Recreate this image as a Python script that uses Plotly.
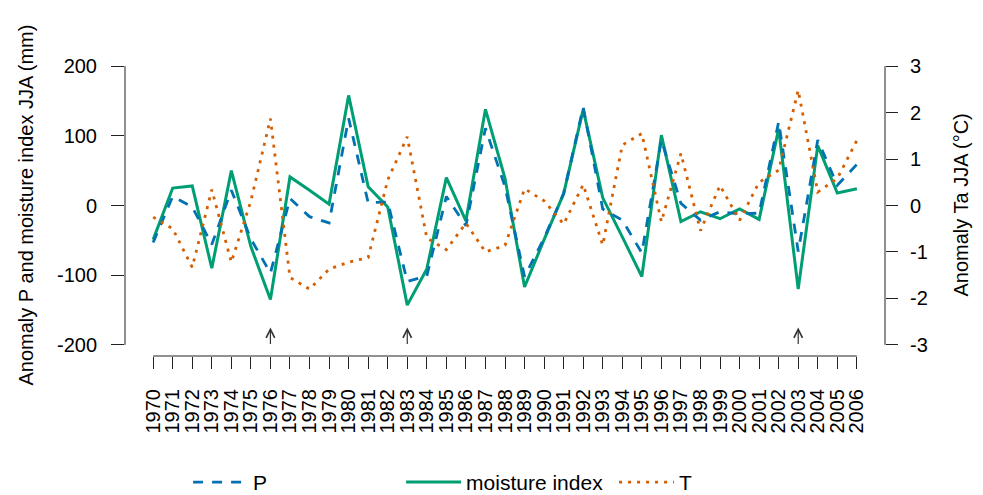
import plotly.graph_objects as go

years = list(range(1970, 2007))

P = [-53, 13, -2, -56, 22, -48, -97, 10, -16, -25,
     125, 4, 5, -109, -101, 13, -29, 111, 27, -102,
     -47, 17, 141, -5, -21, -68, 94, 3, -21, -9,
     -12, -11, 120, -66, 94, 29, 59]

moisture = [-49, 25, 28, -90, 50, -59, -135, 41, 22, 2,
            158, 27, -2, -143, -91, 40, -22, 138, 39, -117,
            -49, 17, 138, 11, -45, -102, 101, -23, -9, -19,
            -5, -20, 110, -120, 86, 18, 24]

T = [-0.25, -0.5, -1.33, 0.34, -1.22, 0.1, 1.87, -1.55, -1.8, -1.37,
     -1.22, -1.12, 0.55, 1.48, -0.7, -0.95, -0.38, -1.0, -0.86, 0.36,
     0.1, -0.4, 0.45, -0.85, 1.3, 1.55, -0.35, 1.12, -0.54, 0.43,
     -0.32, 0.5, 0.76, 2.48, 0.29, 0.58, 1.4]

arrow_years = [1976, 1983, 2003]
arrow_tip = -175
arrow_base = -201

left_ticks = [-200, -100, 0, 100, 200]
right_ticks = [-3, -2, -1, 0, 1, 2, 3]

BLUE = "#0072B2"
GREEN = "#009E73"
ORANGE = "#D55E00"
FONT = "Liberation Sans, Arial, sans-serif"
AX = "#222222"

fig = go.Figure()
fig.add_trace(go.Scatter(x=years, y=moisture, mode="lines", name="moisture index",
                         line=dict(color=GREEN, width=3), legendrank=2))
fig.add_trace(go.Scatter(x=years, y=P, mode="lines", name="P",
                         line=dict(color=BLUE, width=2.8, dash="10px,9px"), legendrank=1))
fig.add_trace(go.Scatter(x=years, y=T, mode="lines", name="T", yaxis="y2",
                         line=dict(color=ORANGE, width=2.8, dash="3px,6px"), legendrank=3))

x0, x1 = years[0], years[-1]
xpad = (x1 - x0) * 0.04
ypad = (left_ticks[-1] - left_ticks[0]) * 0.04
y2pad = (right_ticks[-1] - right_ticks[0]) * 0.04

fig.update_layout(
    width=983, height=495,
    margin=dict(l=125, r=98, t=55, b=139, autoexpand=False),
    paper_bgcolor="white", plot_bgcolor="white",
    font=dict(family=FONT, size=20, color="black"),
    showlegend=True,
    legend=dict(orientation="h", x=0.083, y=-0.42, xanchor="left", yanchor="middle",
                entrywidth=143, entrywidthmode="pixels", itemwidth=55,
                font=dict(size=21, family=FONT, color="black"),
                bgcolor="rgba(0,0,0,0)", traceorder="normal"),
    xaxis=dict(range=[x0 - xpad, x1 + xpad], tickvals=years, ticktext=[str(y) for y in years],
               tickangle=-90, ticks="outside", ticklen=12, tickcolor=AX, tickwidth=1,
               showgrid=False, zeroline=False, showline=False, ticklabelstandoff=12,
               automargin=False,
               tickfont=dict(size=20, family=FONT, color="black")),
    yaxis=dict(range=[left_ticks[0] - ypad, left_ticks[-1] + ypad], tickvals=left_ticks,
               ticktext=[str(v) for v in left_ticks],
               ticks="outside", ticklen=13, tickcolor=AX, tickwidth=1,
               showgrid=False, zeroline=False, showline=False, ticklabelstandoff=10,
               automargin=False,
               tickfont=dict(size=20, family=FONT, color="black")),
    yaxis2=dict(range=[right_ticks[0] - y2pad, right_ticks[-1] + y2pad], tickvals=right_ticks,
                ticktext=[str(v) for v in right_ticks],
                overlaying="y", side="right", anchor="x",
                ticks="outside", ticklen=12, tickcolor=AX, tickwidth=1,
                showgrid=False, zeroline=False, showline=False, ticklabelstandoff=8,
                automargin=False,
                tickfont=dict(size=20, family=FONT, color="black")),
)

shapes = [
    dict(type="line", xref="x", yref="paper", x0=x0, x1=x1, y0=0, y1=0,
         line=dict(color=AX, width=1)),
    dict(type="line", xref="paper", yref="y", x0=0, x1=0, y0=left_ticks[0], y1=left_ticks[-1],
         line=dict(color=AX, width=1)),
    dict(type="line", xref="paper", yref="y2", x0=1, x1=1, y0=right_ticks[0], y1=right_ticks[-1],
         line=dict(color=AX, width=1)),
]
fig.update_layout(shapes=shapes)

annotations = [
    dict(text="Anomaly P and moisture index JJA (mm)", xref="paper", yref="paper",
         x=0, y=0.5, xanchor="center", yanchor="middle", xshift=-100, textangle=-90,
         showarrow=False, font=dict(size=20, family=FONT, color="black")),
    dict(text="Anomaly Ta JJA (°C)", xref="paper", yref="paper",
         x=1, y=0.5, xanchor="center", yanchor="middle", xshift=75, textangle=-90,
         showarrow=False, font=dict(size=20, family=FONT, color="black")),
]
for ay in arrow_years:
    annotations.append(dict(text="", x=ay, y=arrow_tip, xref="x", yref="y",
                            ax=ay, ay=arrow_base, axref="x", ayref="y",
                            showarrow=True, arrowhead=5, arrowsize=1.4, arrowwidth=1.2,
                            arrowcolor="#333333", standoff=0, startstandoff=0))
fig.update_layout(annotations=annotations)

fig.write_html("out.html")
